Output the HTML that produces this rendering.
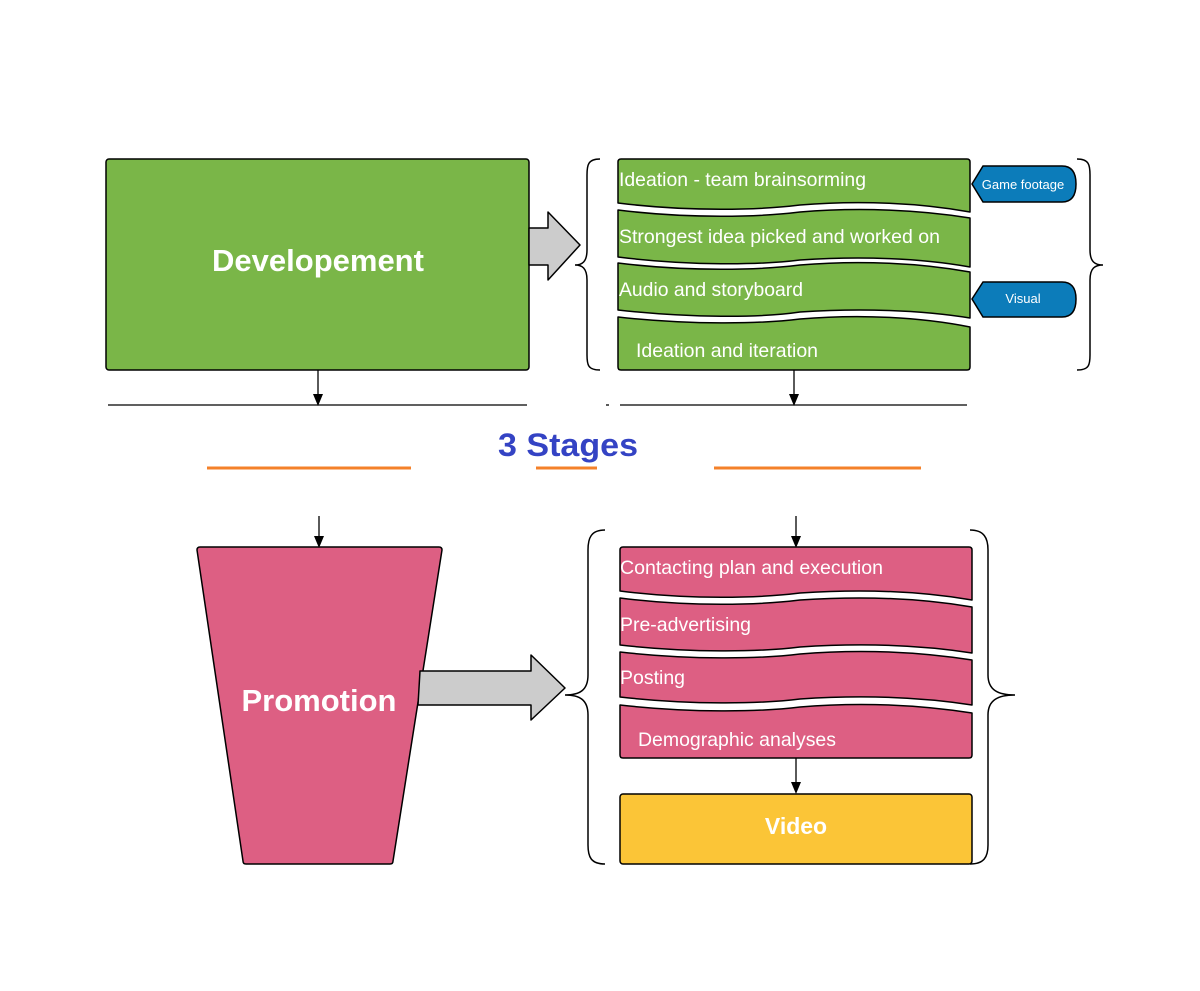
<!DOCTYPE html>
<html><head><style>body{margin:0;background:#fff}svg{display:block}</style></head><body>
<svg width="1200" height="991" viewBox="0 0 1200 991" xmlns="http://www.w3.org/2000/svg" font-family="Liberation Sans, sans-serif">
<!-- Development -->
<rect x="106" y="159" width="423" height="211" rx="3" fill="#7ab648" stroke="#000" stroke-width="1.5"/>
<text x="318" y="271" text-anchor="middle" font-size="31" font-weight="bold" fill="#fff">Developement</text>
<path d="M529,228 H548 V212 L580,245 L548,280 V265 H529 Z" fill="#ccc" stroke="#000" stroke-width="1.5" stroke-linejoin="round"/>
<!-- braces top -->
<path d="M600,159 C588,159 587,165 587,175 V250 C587,262 582,265 575,265 C582,265 587,268 587,280 V355 C587,365 588,370 600,370" fill="none" stroke="#000" stroke-width="1.5"/>
<path d="M1077,159 C1089,159 1090,165 1090,175 V250 C1090,262 1095,265 1103,265 C1095,265 1090,268 1090,280 V355 C1090,365 1089,370 1077,370" fill="none" stroke="#000" stroke-width="1.5"/>
<!-- green stack -->
<g fill="#7ab648" stroke="#000" stroke-width="1.5" stroke-linejoin="round">
<path d="M618,162 Q618,159 621,159 H967 Q970,159 970,162 V212 C920,203 860,200 800,205 C760,210 690,212 618,203 Z"/>
<path d="M618,210 C690,219 760,217 800,212 C860,207 920,210 970,218 V267 C920,258 860,256 800,260 C760,265 690,266 618,257 Z"/>
<path d="M618,263 C690,272 760,270 800,265 C860,260 920,263 970,272 V318 C920,310 860,308 800,312 C760,318 690,318 618,310 Z"/>
<path d="M618,317 C690,325 760,324 800,319 C860,314 920,317 970,327 V367 Q970,370 967,370 H621 Q618,370 618,367 Z"/>
</g>
<g fill="#fff" font-size="19.5">
<text x="619" y="186" textLength="247" lengthAdjust="spacingAndGlyphs">Ideation - team brainsorming</text>
<text x="619" y="243" textLength="321" lengthAdjust="spacingAndGlyphs">Strongest idea picked and worked on</text>
<text x="619" y="296" textLength="184" lengthAdjust="spacingAndGlyphs">Audio and storyboard</text>
<text x="636" y="357" textLength="182" lengthAdjust="spacingAndGlyphs">Ideation and iteration</text>
</g>
<!-- tags -->
<path d="M983,166 H1062 Q1076,166 1076,184 Q1076,202 1062,202 H983 L972,184 Z" fill="#0c7cba" stroke="#000" stroke-width="1.5"/>
<text x="1023" y="189" text-anchor="middle" font-size="13" fill="#fff">Game footage</text>
<path d="M983,282 H1062 Q1076,282 1076,299 Q1076,317 1062,317 H983 L972,299 Z" fill="#0c7cba" stroke="#000" stroke-width="1.5"/>
<text x="1023" y="303" text-anchor="middle" font-size="13" fill="#fff">Visual</text>
<!-- connectors -->
<g stroke="#000" stroke-width="1.3">
<line x1="318" y1="370" x2="318" y2="397"/><line x1="794" y1="370" x2="794" y2="397"/>
<line x1="108" y1="405" x2="527" y2="405"/><line x1="620" y1="405" x2="967" y2="405"/><line x1="606" y1="405" x2="609" y2="405"/>
<line x1="319" y1="516" x2="319" y2="539"/><line x1="796" y1="516" x2="796" y2="539"/>
<line x1="796" y1="758" x2="796" y2="785"/>
</g>
<g fill="#000">
<path d="M313,394 L323,394 L318,406Z"/><path d="M789,394 L799,394 L794,406Z"/>
<path d="M314,536 L324,536 L319,548Z"/><path d="M791,536 L801,536 L796,548Z"/>
<path d="M791,782 L801,782 L796,794Z"/>
</g>
<text x="568" y="456" text-anchor="middle" font-size="32" font-weight="bold" fill="#3443c4" textLength="140" lengthAdjust="spacingAndGlyphs">3 Stages</text>
<g stroke="#f4812a" stroke-width="3"><line x1="207" y1="468" x2="411" y2="468"/><line x1="536" y1="468" x2="597" y2="468"/><line x1="714" y1="468" x2="921" y2="468"/></g>
<!-- Promotion -->
<path d="M200,547 H439 Q442,547 442,550 L393,861 Q393,864 390,864 H246 Q243,864 243,861 L197,550 Q197,547 200,547 Z" fill="#dd5f83" stroke="#000" stroke-width="1.5"/>
<text x="319" y="711" text-anchor="middle" font-size="31" font-weight="bold" fill="#fff" textLength="155" lengthAdjust="spacingAndGlyphs">Promotion</text>
<path d="M420,671 H531 V655 L565,688 L531,720 V705 H418 Z" fill="#ccc" stroke="#000" stroke-width="1.5" stroke-linejoin="round"/>
<path d="M605,530 C591,530 588,538 588,550 V675 C588,690 580,695 565,695 C580,695 588,700 588,715 V845 C588,857 591,864 605,864" fill="none" stroke="#000" stroke-width="1.5"/>
<path d="M970,530 C984,530 988,538 988,550 V675 C988,690 998,695 1015,695 C998,695 988,700 988,715 V845 C988,857 984,864 970,864" fill="none" stroke="#000" stroke-width="1.5"/>
<g fill="#dd5f83" stroke="#000" stroke-width="1.5" stroke-linejoin="round">
<path d="M620,550 Q620,547 623,547 H969 Q972,547 972,550 V600 C920,591 860,589 800,593 C760,598 690,600 620,591 Z"/>
<path d="M620,598 C690,607 760,605 800,600 C860,596 920,598 972,607 V653 C920,645 860,643 800,647 C760,652 690,653 620,645 Z"/>
<path d="M620,652 C690,660 760,659 800,654 C860,649 920,652 972,660 V705 C920,697 860,695 800,699 C760,704 690,705 620,697 Z"/>
<path d="M620,705 C690,713 760,712 800,707 C860,702 920,705 972,713 V755 Q972,758 969,758 H623 Q620,758 620,755 Z"/>
</g>
<g fill="#fff" font-size="19.5">
<text x="620" y="574" textLength="263" lengthAdjust="spacingAndGlyphs">Contacting plan and execution</text>
<text x="620" y="631" textLength="131" lengthAdjust="spacingAndGlyphs">Pre-advertising</text>
<text x="620" y="684" textLength="65" lengthAdjust="spacingAndGlyphs">Posting</text>
<text x="638" y="746" textLength="198" lengthAdjust="spacingAndGlyphs">Demographic analyses</text>
</g>
<rect x="620" y="794" width="352" height="70" rx="3" fill="#fbc537" stroke="#000" stroke-width="1.5"/>
<text x="796" y="834" text-anchor="middle" font-size="23" font-weight="bold" fill="#fff">Video</text>
</svg>
</body></html>
